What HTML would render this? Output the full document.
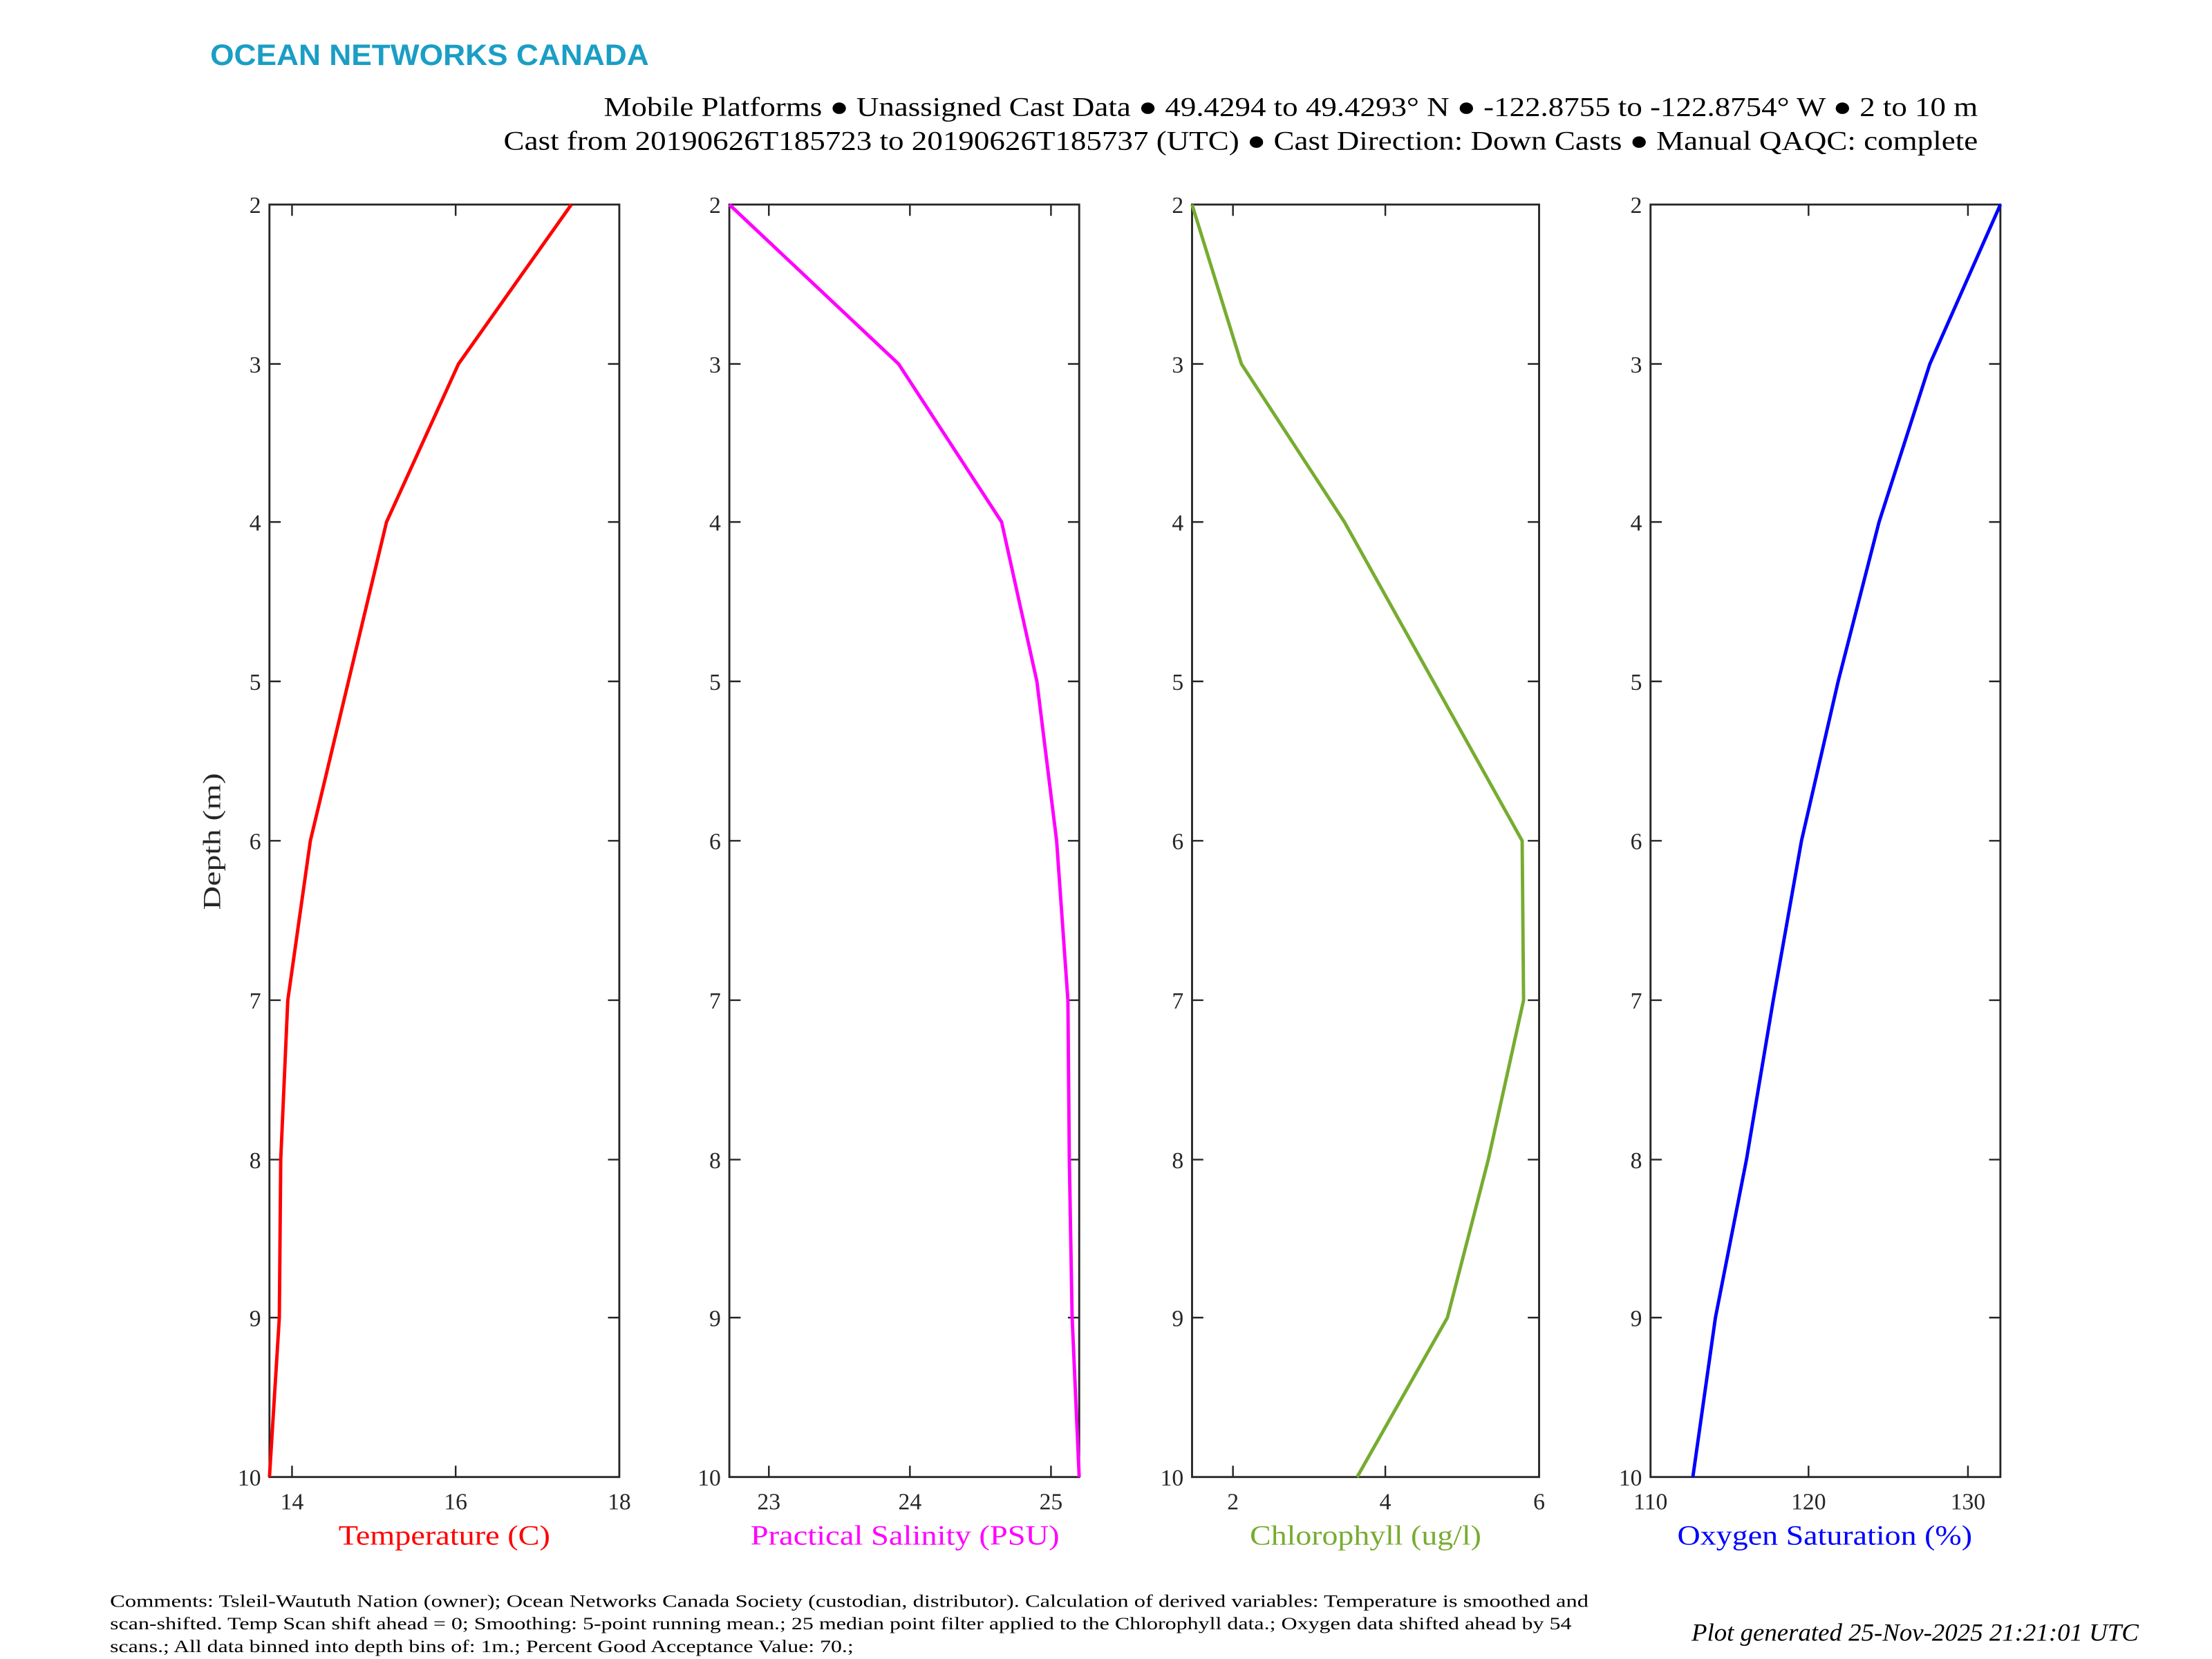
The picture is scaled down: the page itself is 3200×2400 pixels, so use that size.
<!DOCTYPE html>
<html><head><meta charset="utf-8"><style>
html,body{margin:0;padding:0;background:#fff;}
svg{display:block;}
text{font-family:"Liberation Serif",serif;}
</style></head><body>
<svg width="3200" height="2400" viewBox="0 0 1568 1176" xmlns="http://www.w3.org/2000/svg">
<rect width="1568" height="1176" fill="#fff"/>
<text x="149" y="46" style="font-family:'Liberation Sans',sans-serif" font-weight="bold" font-size="21" fill="#1a9ec5" textLength="311" lengthAdjust="spacingAndGlyphs">OCEAN NETWORKS CANADA</text>
<text x="428" y="82" font-size="19" fill="#000" textLength="974" lengthAdjust="spacingAndGlyphs">Mobile Platforms ● Unassigned Cast Data ● 49.4294 to 49.4293° N ● -122.8755 to -122.8754° W ● 2 to 10 m</text>
<text x="357" y="106" font-size="19" fill="#000" textLength="1045" lengthAdjust="spacingAndGlyphs">Cast from 20190626T185723 to 20190626T185737 (UTC) ● Cast Direction: Down Casts ● Manual QAQC: complete</text>

<g stroke="#262626" stroke-width="1.4" fill="none">
<rect x="191" y="145" width="248" height="902"/>
<rect x="517" y="145" width="248" height="902"/>
<rect x="845" y="145" width="246" height="902"/>
<rect x="1170" y="145" width="248" height="902"/>
</g>
<g stroke="#262626" stroke-width="1.2">
<path d="M191 258h8M191 370h8M191 483h8M191 596h8M191 709h8M191 822h8M191 934h8M439 258h-8M439 370h-8M439 483h-8M439 596h-8M439 709h-8M439 822h-8M439 934h-8"/>
<path d="M517 258h8M517 370h8M517 483h8M517 596h8M517 709h8M517 822h8M517 934h8M765 258h-8M765 370h-8M765 483h-8M765 596h-8M765 709h-8M765 822h-8M765 934h-8"/>
<path d="M845 258h8M845 370h8M845 483h8M845 596h8M845 709h8M845 822h8M845 934h8M1091 258h-8M1091 370h-8M1091 483h-8M1091 596h-8M1091 709h-8M1091 822h-8M1091 934h-8"/>
<path d="M1170 258h8M1170 370h8M1170 483h8M1170 596h8M1170 709h8M1170 822h8M1170 934h8M1418 258h-8M1418 370h-8M1418 483h-8M1418 596h-8M1418 709h-8M1418 822h-8M1418 934h-8"/>
<path d="M207 145v8M323 145v8M207 1047v-8M323 1047v-8"/>
<path d="M545 145v8M645 145v8M745 145v8M545 1047v-8M645 1047v-8M745 1047v-8"/>
<path d="M874 145v8M982 145v8M874 1047v-8M982 1047v-8"/>
<path d="M1282 145v8M1395 145v8M1282 1047v-8M1395 1047v-8"/>
</g>

<g font-size="16.5" fill="#262626" text-anchor="end">
<text x="185" y="151">2</text><text x="185" y="264">3</text><text x="185" y="376">4</text><text x="185" y="489">5</text><text x="185" y="602">6</text><text x="185" y="715">7</text><text x="185" y="828">8</text><text x="185" y="940">9</text><text x="185" y="1053">10</text>
<text x="511" y="151">2</text><text x="511" y="264">3</text><text x="511" y="376">4</text><text x="511" y="489">5</text><text x="511" y="602">6</text><text x="511" y="715">7</text><text x="511" y="828">8</text><text x="511" y="940">9</text><text x="511" y="1053">10</text>
<text x="839" y="151">2</text><text x="839" y="264">3</text><text x="839" y="376">4</text><text x="839" y="489">5</text><text x="839" y="602">6</text><text x="839" y="715">7</text><text x="839" y="828">8</text><text x="839" y="940">9</text><text x="839" y="1053">10</text>
<text x="1164" y="151">2</text><text x="1164" y="264">3</text><text x="1164" y="376">4</text><text x="1164" y="489">5</text><text x="1164" y="602">6</text><text x="1164" y="715">7</text><text x="1164" y="828">8</text><text x="1164" y="940">9</text><text x="1164" y="1053">10</text>
</g>
<g font-size="16.5" fill="#262626" text-anchor="middle">
<text x="207" y="1070">14</text><text x="323" y="1070">16</text><text x="439" y="1070">18</text>
<text x="545" y="1070">23</text><text x="645" y="1070">24</text><text x="745" y="1070">25</text>
<text x="874" y="1070">2</text><text x="982" y="1070">4</text><text x="1091" y="1070">6</text>
<text x="1170" y="1070">110</text><text x="1282" y="1070">120</text><text x="1395" y="1070">130</text>
</g>
<g font-size="19.5">
<text x="240" y="1095" fill="#ff0000" textLength="150" lengthAdjust="spacingAndGlyphs">Temperature (C)</text>
<text x="532" y="1095" fill="#ff00ff" textLength="219" lengthAdjust="spacingAndGlyphs">Practical Salinity (PSU)</text>
<text x="886" y="1095" fill="#77ac30" textLength="164" lengthAdjust="spacingAndGlyphs">Chlorophyll (ug/l)</text>
<text x="1189" y="1095" fill="#0000ff" textLength="209" lengthAdjust="spacingAndGlyphs">Oxygen Saturation (%)</text>
</g>
<text transform="translate(156,645) rotate(-90)" font-size="17.5" fill="#262626" textLength="97" lengthAdjust="spacingAndGlyphs">Depth (m)</text>

<g fill="none" stroke-width="2.4" stroke-linejoin="round">
<polyline stroke="#ff0000" points="405,145 325,258 274,370 247,483 220,596 204,709 199,822 198,934 191,1047"/>
<polyline stroke="#ff00ff" points="517,145 637,258 710,370 735,483 749,596 757,709 758,822 760,934 765,1047"/>
<polyline stroke="#77ac30" points="845,145 880,258 953,370 1016,483 1079,596 1080,709 1055,822 1026,934 962,1047"/>
<polyline stroke="#0000ff" points="1418,145 1368,258 1332,370 1303,483 1277,596 1257,709 1238,822 1216,934 1200,1047"/>
</g>

<g font-size="12.6" fill="#000">
<text x="78" y="1139" textLength="1048" lengthAdjust="spacingAndGlyphs">Comments: Tsleil-Waututh Nation (owner); Ocean Networks Canada Society (custodian, distributor). Calculation of derived variables: Temperature is smoothed and</text>
<text x="78" y="1155" textLength="1036" lengthAdjust="spacingAndGlyphs">scan-shifted. Temp Scan shift ahead = 0; Smoothing: 5-point running mean.; 25 median point filter applied to the Chlorophyll data.; Oxygen data shifted ahead by 54</text>
<text x="78" y="1171" textLength="527" lengthAdjust="spacingAndGlyphs">scans.; All data binned into depth bins of: 1m.; Percent Good Acceptance Value: 70.;</text>
</g>
<text x="1199" y="1163" font-size="17.5" font-style="italic" fill="#000" textLength="317" lengthAdjust="spacingAndGlyphs">Plot generated 25-Nov-2025 21:21:01 UTC</text>
</svg>
</body></html>
